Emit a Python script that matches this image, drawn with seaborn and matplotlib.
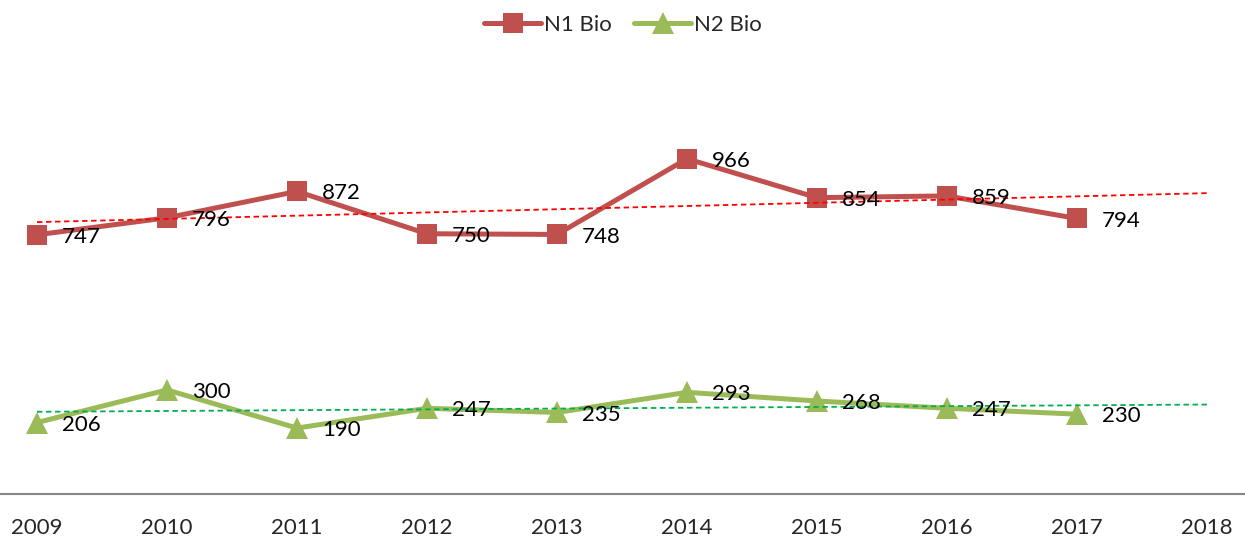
import numpy as np
import pandas as pd
import matplotlib.pyplot as plt
import seaborn as sns

# chart data
years = [2009, 2010, 2011, 2012, 2013, 2014, 2015, 2016, 2017]
all_ticks = [2009, 2010, 2011, 2012, 2013, 2014, 2015, 2016, 2017, 2018]
n1_bio = [747, 796, 872, 750, 748, 966, 854, 859, 794]
n2_bio = [206, 300, 190, 247, 235, 293, 268, 247, 230]

RED = '#C0504D'
GREEN = '#9BBB59'
TREND_RED = '#FF0000'
TREND_GREEN = '#00B050'

sns.set_style('white')
plt.rcParams['font.family'] = ['Lato', 'DejaVu Sans']

df = pd.DataFrame({'year': years, 'N1 Bio': n1_bio, 'N2 Bio': n2_bio})

fig = plt.figure(figsize=(12.45, 5.41), dpi=100)
ax = fig.add_axes([0, 47 / 541, 1, 416.4 / 541])

sns.lineplot(data=df, x='year', y='N1 Bio', ax=ax, color=RED, lw=3.6,
             marker='s', markersize=14, markeredgewidth=0, label='N1 Bio')
sns.lineplot(data=df, x='year', y='N2 Bio', ax=ax, color=GREEN, lw=3.6,
             marker='^', markersize=16, markeredgewidth=0, label='N2 Bio')

# linear trend lines, forecast one period forward
trend_x = np.array([years[0], all_ticks[-1]])
for vals, col in [(n1_bio, TREND_RED), (n2_bio, TREND_GREEN)]:
    k, b = np.polyfit(years, vals, 1)
    ax.plot(trend_x, k * trend_x + b, color=col, lw=1.3, ls=(0, (3, 2)))

# data labels
for vals in (n1_bio, n2_bio):
    for x, v in zip(years, vals):
        ax.annotate(str(v), (x, v), xytext=(18, -1.5), textcoords='offset points',
                    ha='left', va='center', fontsize=16, color='black')

ax.set_xlim(2009 - 37 / 130, 2018 + 38 / 130)
ax.set_ylim(0, 1200)
ax.set_xticks(all_ticks)
ax.set_xticklabels([str(t) for t in all_ticks], fontsize=16)
ax.tick_params(axis='x', length=0, pad=17)
ax.set_yticks([])
ax.set_xlabel('')
ax.set_ylabel('')
for s in ['top', 'left', 'right']:
    ax.spines[s].set_visible(False)
ax.spines['bottom'].set_color('#868686')
ax.spines['bottom'].set_linewidth(1.5)

ax.legend(loc='center', bbox_to_anchor=(0.5, 1 - 25 / 541), bbox_transform=fig.transFigure,
          ncol=2, frameon=False, fontsize=16, handlelength=2.6, columnspacing=1.0,
          handletextpad=0.1)

fig.savefig('out.png', dpi=100)
